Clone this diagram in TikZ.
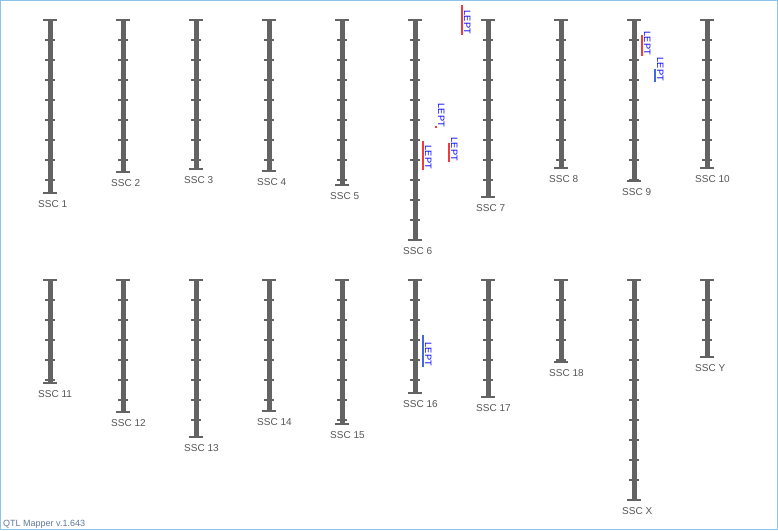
\documentclass[tikz,border=0pt]{standalone}
\usepackage{fontspec}
\setmainfont{Liberation Sans}
\definecolor{chromgray}{HTML}{636363}
\definecolor{labelgray}{HTML}{555555}
\definecolor{markred}{HTML}{EE3B3B}
\definecolor{markblue}{HTML}{4169E1}
\definecolor{leptblue}{HTML}{0000FF}
\definecolor{framecol}{HTML}{8CC3EB}
\definecolor{vercol}{HTML}{5F7A9A}
\newcommand\chromo[5]{%
  \draw[chrbar] (#2,#3) -- (#2,#4);
  \draw[chrcap] (#2-7,#3) -- (#2+7,#3);
  \draw[chrcap] (#2-7,#4) -- (#2+7,#4);
  \pgfmathtruncatemacro\nticks{floor((#4-#3-1)/20)}
  \foreach \k in {1,...,\nticks} \draw[chrtick] (#2-5,#3+20*\k) -- (#2+5,#3+20*\k);
  \node[chrlabel] (#1) at (#2-12,#4+14) {#5};
}
\newcommand\qtlmark[5]{%
  \draw[markline,#5] (#2,#3) -- (#2,#4);
  \node[lept] (#1) at (#2+2,#4-1) {LEPT};
}
\begin{document}
\begin{tikzpicture}[x=1pt,y=-1pt,
  chrbar/.style={chromgray, line width=5pt},
  chrcap/.style={chromgray, line width=2pt},
  chrtick/.style={chromgray, line width=1.1pt},
  chrlabel/.style={text=labelgray, font=\fontsize{10}{12}\selectfont, anchor=base west, inner sep=0pt},
  markline/.style={line width=2pt},
  lept/.style={text=leptblue, font=\fontsize{9.2}{11}\selectfont, rotate=-90, anchor=base east, inner sep=0pt},
  verlabel/.style={text=vercol, font=\fontsize{9}{11}\selectfont, anchor=base west, inner sep=0pt}]
\useasboundingbox (0,0) rectangle (778,530);
\fill[white] (0,0) rectangle (778,530);
\draw[framecol, line width=1pt] (0.5,0.5) rectangle (777.5,529.5);
% top row
\chromo{c1}{50}{20}{193}{SSC 1}
\chromo{c2}{123}{20}{172}{SSC 2}
\chromo{c3}{196}{20}{169}{SSC 3}
\chromo{c4}{269}{20}{171}{SSC 4}
\chromo{c5}{342}{20}{185}{SSC 5}
\chromo{c6}{415}{20}{240}{SSC 6}
\chromo{c7}{488}{20}{197}{SSC 7}
\chromo{c8}{561}{20}{168}{SSC 8}
\chromo{c9}{634}{20}{181}{SSC 9}
\chromo{c10}{707}{20}{168}{SSC 10}
% bottom row
\chromo{c11}{50}{280}{383}{SSC 11}
\chromo{c12}{123}{280}{412}{SSC 12}
\chromo{c13}{196}{280}{437}{SSC 13}
\chromo{c14}{269}{280}{411}{SSC 14}
\chromo{c15}{342}{280}{424}{SSC 15}
\chromo{c16}{415}{280}{393}{SSC 16}
\chromo{c17}{488}{280}{397}{SSC 17}
\chromo{c18}{561}{280}{362}{SSC 18}
\chromo{cX}{634}{280}{500}{SSC X}
\chromo{cY}{707}{280}{357}{SSC Y}
% QTL markers
\qtlmark{m1}{462}{5}{35}{markred}
\qtlmark{m2}{436}{126}{128}{markred}
\qtlmark{m3}{423}{141}{170}{markred}
\qtlmark{m4}{449}{143}{162}{markred}
\qtlmark{m5}{642}{35}{56}{markred}
\qtlmark{m6}{655}{69}{82}{markblue}
\qtlmark{m7}{423}{335}{367}{markblue}
\node[verlabel] (ver) at (3,526) {QTL Mapper v.1.643};
\end{tikzpicture}
\end{document}
